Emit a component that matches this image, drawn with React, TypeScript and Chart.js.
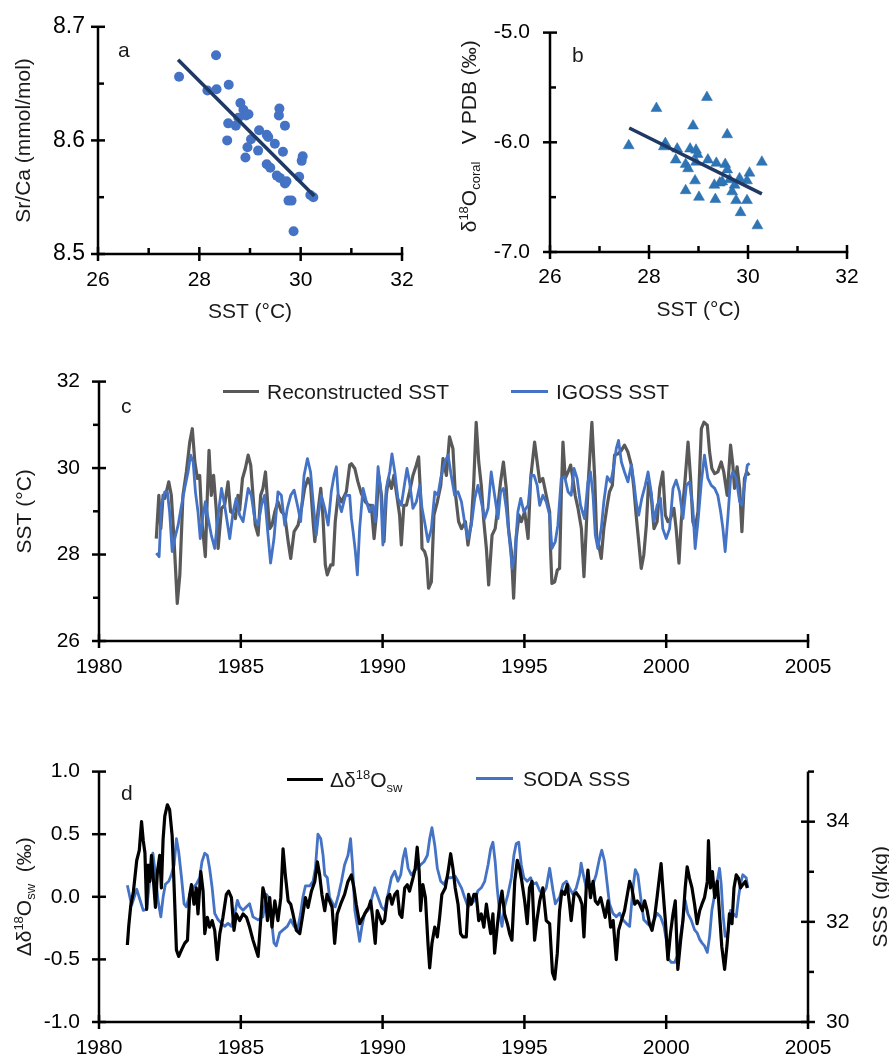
import React, { useEffect, useRef } from 'react';
import { Chart, registerables } from 'chart.js';
Chart.register(...registerables);

const FONT = '"Liberation Sans", Arial, Helvetica, sans-serif';
const TXT = '#1a1a1a';

// ---------- Panel a: Sr/Ca vs SST ----------
const aSST = [27.60, 28.33, 28.16, 28.34, 28.58, 28.55, 28.57, 28.72, 28.81, 28.87, 28.92, 28.97, 28.77, 28.91, 28.95, 29.02, 29.16, 29.18, 29.33, 29.36, 29.33, 29.40, 29.49, 29.58, 29.57, 29.69, 29.65, 29.53, 29.59, 29.69, 29.72, 29.76, 29.82, 29.86, 29.97, 30.02, 30.04, 30.19, 30.25];
const aSrCa = [8.656, 8.675, 8.644, 8.645, 8.649, 8.600, 8.615, 8.613, 8.633, 8.627, 8.622, 8.623, 8.620, 8.585, 8.594, 8.601, 8.591, 8.609, 8.605, 8.603, 8.579, 8.576, 8.597, 8.628, 8.622, 8.613, 8.590, 8.569, 8.567, 8.562, 8.564, 8.547, 8.547, 8.520, 8.568, 8.582, 8.586, 8.552, 8.550];
const aFitSST = [27.58, 30.27];
const aFitSrCa = [8.671, 8.551];

// ---------- Panel b: d18O coral vs SST ----------
const bSST = [27.59, 28.15, 29.17, 28.89, 29.58, 28.33, 28.30, 28.57, 28.83, 28.95, 28.98, 28.54, 28.74, 28.79, 28.95, 29.19, 29.36, 29.54, 29.58, 30.28, 30.03, 29.98, 29.83, 29.73, 29.63, 29.43, 29.48, 29.32, 28.93, 28.74, 29.01, 29.34, 29.68, 29.76, 29.98, 29.85, 30.19];
const bD18O = [-6.03, -5.69, -5.59, -5.85, -5.93, -6.01, -6.04, -6.06, -6.06, -6.07, -6.11, -6.16, -6.20, -6.24, -6.18, -6.16, -6.19, -6.20, -6.25, -6.18, -6.28, -6.35, -6.33, -6.39, -6.34, -6.37, -6.36, -6.39, -6.35, -6.44, -6.50, -6.52, -6.45, -6.53, -6.53, -6.64, -6.76];
const bFitSST = [27.6, 30.28];
const bFitD18O = [-5.87, -6.47];

// ---------- Ticks ----------
const sstTicks = [26, 27, 28, 29, 30, 31, 32];
const sstLabels = [26, 28, 30, 32];
const aYTicks = [8.5, 8.55, 8.6, 8.65, 8.7];
const aYLabels = [8.5, 8.6, 8.7];
const bYTicks = [-7, -6.5, -6, -5.5, -5];
const bYLabels = [-7, -6, -5];
const cYTicks = [26, 27, 28, 29, 30, 31, 32];
const cYLabels = [26, 28, 30, 32];
const yearTicks = [1980, 1985, 1990, 1995, 2000, 2005];
const dYTicks = [-1, -0.5, 0, 0.5, 1];
const dY1Ticks = [30, 31, 32, 33, 34, 35];
const dY1Labels = [30, 32, 34];

// ---------- Panel c: Reconstructed SST ----------
const recYears = [1982.02, 1982.11, 1982.18, 1982.26, 1982.32, 1982.46, 1982.55, 1982.65, 1982.76, 1982.85, 1982.96, 1983.08, 1983.2, 1983.29, 1983.38, 1983.47, 1983.55, 1983.63, 1983.75, 1983.82, 1983.88, 1983.96, 1984.04, 1984.14, 1984.2, 1984.32, 1984.43, 1984.55, 1984.64, 1984.73, 1984.81, 1984.9, 1984.96, 1985.06, 1985.16, 1985.26, 1985.35, 1985.43, 1985.51, 1985.61, 1985.7, 1985.78, 1985.87, 1985.96, 1986.02, 1986.1, 1986.2, 1986.31, 1986.43, 1986.55, 1986.67, 1986.76, 1986.88, 1987.02, 1987.14, 1987.25, 1987.37, 1987.46, 1987.55, 1987.61, 1987.72, 1987.82, 1987.9, 1987.98, 1988.05, 1988.17, 1988.25, 1988.33, 1988.43, 1988.55, 1988.72, 1988.84, 1988.9, 1989.02, 1989.13, 1989.25, 1989.39, 1989.51, 1989.6, 1989.7, 1989.78, 1989.86, 1989.96, 1990.05, 1990.13, 1990.21, 1990.31, 1990.4, 1990.5, 1990.6, 1990.66, 1990.75, 1990.84, 1990.95, 1991.07, 1991.19, 1991.27, 1991.34, 1991.39, 1991.48, 1991.55, 1991.62, 1991.72, 1991.81, 1991.93, 1992.05, 1992.13, 1992.25, 1992.36, 1992.48, 1992.56, 1992.68, 1992.78, 1992.92, 1993.01, 1993.13, 1993.21, 1993.3, 1993.39, 1993.48, 1993.57, 1993.66, 1993.74, 1993.86, 1993.97, 1994.07, 1994.16, 1994.26, 1994.36, 1994.44, 1994.54, 1994.62, 1994.71, 1994.81, 1994.89, 1995.01, 1995.13, 1995.22, 1995.36, 1995.45, 1995.54, 1995.65, 1995.77, 1995.89, 1995.92, 1995.97, 1996.07, 1996.16, 1996.24, 1996.3, 1996.36, 1996.44, 1996.54, 1996.63, 1996.71, 1996.79, 1996.89, 1997.01, 1997.1, 1997.18, 1997.26, 1997.38, 1997.48, 1997.55, 1997.62, 1997.71, 1997.8, 1997.92, 1998.0, 1998.1, 1998.18, 1998.3, 1998.42, 1998.53, 1998.65, 1998.77, 1998.86, 1998.94, 1999.03, 1999.12, 1999.21, 1999.3, 1999.38, 1999.47, 1999.57, 1999.68, 1999.77, 1999.88, 1999.97, 2000.06, 2000.15, 2000.27, 2000.35, 2000.45, 2000.53, 2000.65, 2000.77, 2000.86, 2000.94, 2001.02, 2001.12, 2001.24, 2001.33, 2001.45, 2001.53, 2001.61, 2001.71, 2001.82, 2001.94, 2002.03, 2002.15, 2002.27, 2002.35, 2002.41, 2002.5, 2002.59, 2002.67, 2002.76, 2002.84, 2002.93];
const recSST = [28.37, 29.37, 28.6, 29.37, 29.3, 29.68, 29.37, 28.3, 26.87, 27.53, 29.37, 29.91, 30.6, 30.91, 30.14, 29.76, 29.83, 28.76, 27.95, 29.37, 30.41, 29.37, 29.83, 28.99, 28.14, 29.07, 29.14, 29.68, 28.99, 28.95, 28.83, 29.37, 29.03, 29.76, 29.99, 30.3, 30.07, 29.37, 28.68, 28.45, 29.37, 29.53, 29.91, 29.07, 28.6, 28.68, 28.99, 29.22, 28.99, 28.91, 28.3, 27.91, 28.53, 28.68, 29.07, 29.53, 29.76, 29.6, 28.76, 28.3, 28.99, 29.53, 28.83, 27.76, 27.53, 27.76, 27.76, 28.76, 29.37, 29.22, 29.45, 30.07, 30.1, 29.99, 29.68, 29.41, 29.22, 29.14, 29.14, 28.37, 28.91, 29.83, 29.37, 28.3, 29.37, 29.76, 29.53, 29.83, 29.37, 28.91, 28.22, 29.14, 29.14, 29.45, 29.83, 30.07, 30.26, 29.37, 28.14, 28.07, 27.91, 27.22, 27.37, 28.91, 29.22, 29.6, 30.22, 29.83, 30.72, 30.45, 29.45, 28.76, 28.6, 28.76, 28.22, 28.76, 29.6, 31.06, 30.14, 29.6, 28.76, 28.14, 27.3, 28.45, 28.6, 29.14, 29.68, 30.14, 29.53, 28.6, 28.07, 26.99, 28.37, 28.91, 28.76, 28.99, 28.37, 29.76, 30.6, 30.14, 29.68, 29.76, 29.37, 28.99, 28.14, 27.33, 27.37, 27.64, 27.68, 29.37, 30.6, 29.76, 29.91, 30.07, 29.76, 29.37, 29.07, 28.6, 27.49, 28.6, 29.76, 31.06, 29.76, 28.37, 28.22, 27.91, 28.6, 29.14, 29.45, 29.6, 30.3, 30.33, 30.41, 30.53, 30.37, 30.07, 29.53, 28.91, 28.3, 27.68, 27.99, 28.68, 29.68, 29.37, 28.6, 28.76, 29.53, 29.91, 28.91, 28.76, 28.83, 29.07, 28.6, 27.8, 28.76, 29.6, 30.6, 29.76, 28.76, 28.6, 28.99, 30.91, 31.06, 30.99, 30.37, 29.99, 29.87, 29.91, 30.14, 29.91, 29.37, 30.53, 30.07, 29.53, 30.03, 29.53, 28.53, 29.76, 29.91, 29.83];

// ---------- Panel c: IGOSS SST ----------
const igossYears = [1982.02, 1982.12, 1982.2, 1982.32, 1982.41, 1982.49, 1982.58, 1982.67, 1982.79, 1982.91, 1983.02, 1983.14, 1983.23, 1983.32, 1983.4, 1983.49, 1983.57, 1983.67, 1983.75, 1983.85, 1983.96, 1984.08, 1984.2, 1984.32, 1984.43, 1984.61, 1984.73, 1984.84, 1984.96, 1985.08, 1985.26, 1985.37, 1985.49, 1985.61, 1985.73, 1985.84, 1985.96, 1986.05, 1986.17, 1986.31, 1986.43, 1986.55, 1986.64, 1986.76, 1986.88, 1987.02, 1987.11, 1987.23, 1987.35, 1987.46, 1987.55, 1987.66, 1987.75, 1987.84, 1987.96, 1988.08, 1988.19, 1988.29, 1988.37, 1988.45, 1988.55, 1988.69, 1988.84, 1988.9, 1988.96, 1989.04, 1989.11, 1989.19, 1989.31, 1989.43, 1989.54, 1989.66, 1989.74, 1989.84, 1989.93, 1990.01, 1990.13, 1990.25, 1990.33, 1990.43, 1990.54, 1990.66, 1990.75, 1990.86, 1990.95, 1991.07, 1991.19, 1991.31, 1991.39, 1991.48, 1991.6, 1991.72, 1991.84, 1991.95, 1992.05, 1992.19, 1992.31, 1992.42, 1992.54, 1992.66, 1992.78, 1992.89, 1993.01, 1993.13, 1993.25, 1993.36, 1993.48, 1993.6, 1993.72, 1993.83, 1993.95, 1994.07, 1994.16, 1994.26, 1994.36, 1994.48, 1994.57, 1994.66, 1994.77, 1994.87, 1994.98, 1995.13, 1995.24, 1995.34, 1995.45, 1995.54, 1995.65, 1995.77, 1995.89, 1995.97, 1996.09, 1996.18, 1996.3, 1996.42, 1996.54, 1996.65, 1996.75, 1996.86, 1996.98, 1997.12, 1997.24, 1997.33, 1997.42, 1997.5, 1997.59, 1997.71, 1997.8, 1997.92, 1998.04, 1998.12, 1998.24, 1998.32, 1998.42, 1998.53, 1998.65, 1998.77, 1998.86, 1998.94, 1999.03, 1999.14, 1999.26, 1999.36, 1999.47, 1999.57, 1999.68, 1999.8, 1999.88, 2000.0, 2000.12, 2000.24, 2000.35, 2000.47, 2000.59, 2000.71, 2000.82, 2000.94, 2001.02, 2001.12, 2001.24, 2001.35, 2001.47, 2001.59, 2001.71, 2001.82, 2001.92, 2002.0, 2002.08, 2002.18, 2002.27, 2002.35, 2002.47, 2002.59, 2002.67, 2002.76, 2002.86, 2002.94];
const igossSST = [28.03, 27.95, 29.14, 29.45, 29.45, 28.99, 28.07, 28.37, 28.68, 29.14, 29.53, 29.91, 30.3, 30.14, 29.45, 28.99, 28.37, 28.91, 29.22, 28.83, 28.45, 28.14, 28.91, 29.53, 29.14, 28.37, 28.99, 29.3, 28.91, 28.76, 29.53, 29.37, 28.83, 28.68, 29.14, 29.37, 28.45, 27.8, 28.37, 29.45, 29.37, 28.68, 29.07, 29.37, 29.49, 29.07, 28.76, 29.83, 30.22, 29.91, 29.22, 28.45, 28.99, 29.37, 29.07, 28.68, 29.45, 29.83, 30.03, 29.22, 28.99, 29.37, 29.37, 28.83, 28.53, 28.07, 27.53, 28.6, 29.53, 29.22, 28.99, 29.14, 28.76, 30.03, 29.53, 28.22, 29.53, 29.91, 30.33, 29.91, 29.3, 29.14, 29.53, 29.99, 29.68, 29.07, 29.22, 29.6, 29.07, 28.76, 28.3, 28.6, 29.45, 29.37, 29.76, 30.14, 30.3, 29.83, 29.37, 29.45, 29.22, 28.76, 28.37, 28.68, 29.3, 29.6, 29.22, 28.83, 29.07, 29.91, 29.37, 28.83, 29.45, 29.53, 29.07, 28.3, 27.68, 27.99, 28.99, 29.3, 28.99, 29.14, 29.83, 29.83, 29.6, 29.14, 29.37, 29.22, 28.91, 28.14, 28.3, 28.68, 29.76, 29.8, 29.45, 29.37, 29.99, 29.76, 29.14, 28.83, 29.68, 29.91, 29.37, 28.45, 28.14, 28.6, 29.22, 29.8, 29.68, 29.91, 30.45, 30.64, 30.14, 29.91, 29.68, 30.07, 29.68, 29.22, 28.91, 29.3, 29.6, 29.91, 29.45, 28.76, 29.14, 29.3, 28.6, 28.37, 28.6, 29.53, 29.72, 29.45, 28.83, 29.6, 29.68, 29.07, 28.14, 28.76, 29.68, 30.3, 29.76, 29.6, 29.53, 29.37, 28.99, 28.6, 28.07, 28.91, 29.76, 29.91, 29.76, 29.22, 29.14, 29.6, 30.07, 30.11];

// ---------- Panel d: seawater d18O anomaly ----------
const swYears = [1981.0, 1981.05, 1981.12, 1981.21, 1981.33, 1981.42, 1981.5, 1981.56, 1981.62, 1981.68, 1981.73, 1981.79, 1981.85, 1981.94, 1981.99, 1982.06, 1982.14, 1982.2, 1982.26, 1982.32, 1982.41, 1982.49, 1982.58, 1982.65, 1982.73, 1982.81, 1982.91, 1983.02, 1983.12, 1983.2, 1983.26, 1983.35, 1983.43, 1983.49, 1983.59, 1983.67, 1983.73, 1983.82, 1983.9, 1983.99, 1984.08, 1984.17, 1984.26, 1984.37, 1984.49, 1984.57, 1984.67, 1984.76, 1984.84, 1984.96, 1985.08, 1985.2, 1985.31, 1985.43, 1985.61, 1985.7, 1985.78, 1985.87, 1985.94, 1986.02, 1986.1, 1986.2, 1986.31, 1986.41, 1986.49, 1986.57, 1986.67, 1986.76, 1986.84, 1986.96, 1987.08, 1987.19, 1987.28, 1987.37, 1987.49, 1987.61, 1987.7, 1987.78, 1987.86, 1987.96, 1988.04, 1988.13, 1988.22, 1988.31, 1988.4, 1988.52, 1988.66, 1988.78, 1988.9, 1988.99, 1989.07, 1989.19, 1989.31, 1989.43, 1989.51, 1989.58, 1989.66, 1989.74, 1989.81, 1989.9, 1989.98, 1990.07, 1990.17, 1990.25, 1990.33, 1990.43, 1990.52, 1990.6, 1990.68, 1990.78, 1990.87, 1990.95, 1991.07, 1991.15, 1991.22, 1991.29, 1991.34, 1991.42, 1991.51, 1991.6, 1991.66, 1991.74, 1991.84, 1991.93, 1992.01, 1992.09, 1992.21, 1992.31, 1992.4, 1992.48, 1992.56, 1992.66, 1992.75, 1992.83, 1992.95, 1993.03, 1993.13, 1993.22, 1993.3, 1993.39, 1993.48, 1993.57, 1993.66, 1993.74, 1993.81, 1993.89, 1993.95, 1994.04, 1994.13, 1994.21, 1994.3, 1994.4, 1994.48, 1994.56, 1994.66, 1994.75, 1994.83, 1994.91, 1995.01, 1995.1, 1995.18, 1995.27, 1995.36, 1995.44, 1995.54, 1995.65, 1995.77, 1995.89, 1995.99, 1996.07, 1996.16, 1996.24, 1996.32, 1996.42, 1996.51, 1996.59, 1996.65, 1996.75, 1996.83, 1996.95, 1997.03, 1997.1, 1997.18, 1997.24, 1997.33, 1997.42, 1997.5, 1997.59, 1997.69, 1997.77, 1997.85, 1997.95, 1998.04, 1998.13, 1998.24, 1998.32, 1998.42, 1998.53, 1998.63, 1998.71, 1998.79, 1998.89, 1998.98, 1999.06, 1999.16, 1999.24, 1999.33, 1999.41, 1999.5, 1999.59, 1999.68, 1999.77, 1999.82, 1999.88, 1999.97, 2000.06, 2000.15, 2000.24, 2000.32, 2000.41, 2000.51, 2000.59, 2000.67, 2000.74, 2000.82, 2000.91, 2001.0, 2001.09, 2001.18, 2001.26, 2001.35, 2001.45, 2001.49, 2001.56, 2001.63, 2001.71, 2001.8, 2001.88, 2001.96, 2002.06, 2002.15, 2002.23, 2002.32, 2002.39, 2002.47, 2002.55, 2002.62, 2002.7, 2002.79, 2002.86];
const swD18O = [-0.385, -0.23, -0.07, 0.035, 0.29, 0.37, 0.6, 0.45, 0.35, -0.1, 0.253, 0.123, 0.331, 0.071, -0.085, 0.201, 0.331, 0.071, 0.461, 0.644, 0.735, 0.696, 0.487, 0.071, -0.424, -0.476, -0.424, -0.372, -0.346, 0.019, 0.097, -0.059, 0.071, -0.137, 0.201, 0.045, -0.294, -0.164, -0.242, -0.19, -0.268, -0.502, -0.294, -0.164, 0.019, 0.045, -0.007, -0.268, -0.137, -0.19, -0.137, -0.164, -0.242, -0.346, -0.476, -0.19, 0.071, -0.007, -0.19, -0.007, -0.242, -0.033, -0.19, -0.007, 0.383, 0.175, -0.033, -0.059, -0.137, -0.268, -0.294, -0.137, -0.007, -0.085, 0.045, 0.123, 0.279, 0.175, 0.019, -0.111, 0.019, -0.033, -0.085, -0.372, -0.137, -0.059, 0.019, 0.123, 0.175, 0.071, -0.059, -0.215, -0.164, -0.111, -0.085, -0.033, -0.19, -0.372, -0.111, -0.164, -0.215, -0.19, -0.007, 0.019, -0.059, 0.019, 0.045, -0.137, -0.164, 0.071, 0.097, 0.045, 0.149, 0.227, 0.396, 0.201, -0.111, 0.097, -0.007, -0.372, -0.567, -0.372, -0.242, -0.32, -0.164, 0.019, 0.071, 0.201, 0.344, 0.227, 0.071, -0.059, -0.294, -0.32, -0.32, 0.019, -0.059, 0.019, 0.019, -0.19, -0.137, -0.242, -0.059, -0.19, -0.294, -0.137, -0.45, -0.242, -0.059, 0.045, -0.137, -0.215, -0.294, -0.346, 0.123, 0.292, 0.227, 0.123, -0.033, -0.215, 0.071, 0.123, -0.346, -0.19, -0.033, 0.071, -0.19, -0.215, -0.606, -0.658, -0.45, -0.111, 0.045, 0.019, 0.097, -0.059, -0.19, 0.019, 0.032, -0.007, -0.059, -0.32, 0.071, 0.214, -0.007, 0.123, -0.033, -0.059, -0.007, -0.085, -0.164, -0.033, -0.242, -0.19, -0.502, -0.268, -0.19, -0.111, 0.019, 0.123, 0.071, -0.059, -0.033, -0.059, -0.111, -0.033, -0.111, -0.215, -0.268, -0.164, 0.0, 0.175, 0.266, 0.071, -0.19, -0.502, -0.294, -0.137, -0.033, -0.58, -0.346, -0.19, 0.071, 0.24, 0.149, 0.071, -0.059, -0.215, -0.111, -0.059, -0.007, 0.123, 0.448, 0.071, 0.201, -0.007, 0.123, -0.137, -0.398, -0.58, -0.372, -0.137, -0.215, 0.071, 0.175, 0.149, 0.071, 0.097, 0.123, 0.071];

// ---------- Panel d: SODA SSS ----------
const sodaYears = [1981.0, 1981.15, 1981.33, 1981.56, 1981.68, 1981.8, 1981.9, 1981.99, 1982.08, 1982.18, 1982.26, 1982.34, 1982.46, 1982.55, 1982.65, 1982.73, 1982.81, 1982.91, 1983.0, 1983.08, 1983.2, 1983.32, 1983.43, 1983.55, 1983.63, 1983.73, 1983.82, 1983.9, 1983.99, 1984.08, 1984.2, 1984.32, 1984.43, 1984.55, 1984.67, 1984.79, 1984.88, 1984.96, 1985.08, 1985.2, 1985.31, 1985.43, 1985.61, 1985.78, 1985.9, 1985.98, 1986.08, 1986.17, 1986.25, 1986.37, 1986.49, 1986.64, 1986.76, 1986.88, 1987.0, 1987.11, 1987.19, 1987.28, 1987.43, 1987.55, 1987.63, 1987.72, 1987.82, 1987.9, 1987.96, 1988.05, 1988.13, 1988.25, 1988.33, 1988.45, 1988.55, 1988.66, 1988.78, 1988.87, 1988.94, 1989.02, 1989.11, 1989.19, 1989.27, 1989.37, 1989.49, 1989.6, 1989.72, 1989.84, 1989.96, 1990.07, 1990.19, 1990.31, 1990.43, 1990.54, 1990.64, 1990.72, 1990.8, 1990.9, 1991.01, 1991.11, 1991.22, 1991.34, 1991.46, 1991.58, 1991.66, 1991.74, 1991.84, 1991.93, 1992.05, 1992.16, 1992.28, 1992.42, 1992.56, 1992.66, 1992.78, 1992.89, 1993.01, 1993.13, 1993.25, 1993.36, 1993.48, 1993.6, 1993.72, 1993.81, 1993.89, 1993.97, 1994.04, 1994.13, 1994.21, 1994.3, 1994.42, 1994.54, 1994.63, 1994.71, 1994.8, 1994.89, 1994.98, 1995.1, 1995.22, 1995.3, 1995.42, 1995.54, 1995.65, 1995.77, 1995.89, 1996.01, 1996.09, 1996.24, 1996.36, 1996.48, 1996.59, 1996.71, 1996.83, 1996.95, 1997.0, 1997.1, 1997.18, 1997.3, 1997.42, 1997.53, 1997.65, 1997.73, 1997.83, 1997.92, 1998.0, 1998.12, 1998.24, 1998.36, 1998.47, 1998.59, 1998.71, 1998.83, 1998.91, 1999.0, 1999.1, 1999.21, 1999.33, 1999.45, 1999.57, 1999.68, 1999.8, 1999.92, 2000.0, 2000.08, 2000.18, 2000.3, 2000.39, 2000.47, 2000.59, 2000.67, 2000.76, 2000.88, 2001.0, 2001.09, 2001.18, 2001.26, 2001.35, 2001.45, 2001.53, 2001.61, 2001.71, 2001.8, 2001.88, 2001.94, 2002.0, 2002.08, 2002.18, 2002.27, 2002.35, 2002.47, 2002.55, 2002.62, 2002.7, 2002.82, 2002.88];
const sodaSSS = [32.73, 32.33, 32.65, 32.23, 32.25, 32.9, 33.37, 32.94, 32.43, 32.1, 32.49, 32.75, 32.81, 32.94, 33.14, 33.66, 33.4, 32.88, 32.36, 32.3, 32.55, 32.68, 32.75, 32.88, 33.2, 33.37, 33.33, 33.07, 32.68, 32.17, 32.04, 31.97, 31.91, 31.97, 31.91, 32.17, 32.43, 32.3, 32.23, 32.3, 32.36, 32.1, 32.04, 32.1, 32.55, 32.49, 32.04, 31.58, 31.52, 31.78, 31.84, 31.91, 32.04, 31.91, 31.84, 32.17, 32.49, 32.72, 32.72, 32.81, 33.07, 33.75, 33.66, 33.33, 32.94, 32.88, 32.49, 32.36, 32.3, 32.55, 32.81, 33.14, 33.33, 33.66, 33.14, 32.23, 31.91, 31.61, 31.91, 32.17, 32.23, 32.43, 32.68, 32.49, 32.3, 32.23, 32.55, 32.88, 33.01, 32.81, 32.94, 33.27, 33.46, 33.07, 32.94, 33.01, 33.07, 33.14, 33.2, 33.33, 33.66, 33.88, 33.53, 33.07, 32.81, 32.75, 32.88, 32.88, 32.91, 32.81, 32.68, 32.49, 32.3, 32.36, 32.43, 32.62, 32.68, 32.81, 33.14, 33.46, 33.59, 33.2, 32.68, 32.17, 31.91, 32.3, 32.55, 32.88, 33.33, 33.56, 33.59, 33.14, 32.88, 32.81, 32.88, 32.75, 32.78, 32.62, 32.55, 32.68, 33.07, 32.62, 32.36, 32.49, 32.75, 32.81, 32.68, 32.55, 32.68, 32.94, 33.17, 32.88, 32.68, 32.75, 32.75, 32.94, 33.27, 33.43, 33.2, 32.75, 32.36, 32.17, 32.1, 32.17, 32.04, 31.97, 31.91, 32.68, 33.04, 32.94, 32.49, 32.04, 31.97, 31.91, 32.04, 32.17, 32.1, 31.91, 31.65, 31.26, 31.19, 31.19, 31.32, 31.58, 32.04, 32.43, 32.17, 32.04, 31.84, 31.78, 31.65, 31.58, 31.52, 31.39, 31.71, 32.23, 32.55, 32.81, 33.07, 32.75, 32.17, 31.71, 31.78, 32.23, 32.17, 32.1, 32.49, 32.75, 32.94, 32.88, 32.68];

// ---------- helpers ----------
const pts = (xs: number[], ys: number[]) => xs.map((x, i) => ({ x, y: ys[i] }));
const has = (arr: number[], v: number) => arr.some((a) => Math.abs(a - v) < 1e-6);

type Part = { t: string; k?: 'sup' | 'sub' };
type TextItem = {
  parts: Part[];
  x: number;
  y: number;
  align?: 'left' | 'center';
  rotate?: boolean;
  line?: { color: string; width: number; len: number; gap: number };
};

function drawRich(ctx: CanvasRenderingContext2D, item: TextItem) {
  const size = 21;
  const small = 13;
  ctx.save();
  ctx.translate(item.x, item.y);
  if (item.rotate) ctx.rotate(-Math.PI / 2);
  let cx = 0;
  if (item.line) {
    ctx.strokeStyle = item.line.color;
    ctx.lineWidth = item.line.width;
    ctx.beginPath();
    ctx.moveTo(0, 0);
    ctx.lineTo(item.line.len, 0);
    ctx.stroke();
    cx = item.line.len + item.line.gap;
  }
  ctx.fillStyle = TXT;
  ctx.textBaseline = 'alphabetic';
  ctx.textAlign = 'left';
  const widths = item.parts.map((p) => {
    ctx.font = `${p.k ? small : size}px ${FONT}`;
    return ctx.measureText(p.t).width;
  });
  const total = widths.reduce((a, b) => a + b, 0);
  if (item.align === 'center') cx = -total / 2;
  const base = size * 0.36;
  item.parts.forEach((p, i) => {
    ctx.font = `${p.k ? small : size}px ${FONT}`;
    const dy = p.k === 'sup' ? -size * 0.38 : p.k === 'sub' ? size * 0.22 : 0;
    ctx.fillText(p.t, cx, base + dy);
    cx += widths[i];
  });
  ctx.restore();
}

type AxisSpec = { id: string; side: 'left' | 'right' | 'bottom'; labels: number[]; minor: 'in' | 'out' };

function decorPlugin(axes: AxisSpec[], texts: (ca: any) => TextItem[]) {
  return {
    id: 'decor',
    afterDatasetsDraw(chart: any) {
      const ctx: CanvasRenderingContext2D = chart.ctx;
      const ca = chart.chartArea;
      ctx.save();
      ctx.strokeStyle = '#000';
      ctx.lineWidth = 2.5;
      ctx.lineCap = 'butt';
      axes.forEach((s) => {
        const sc = chart.scales[s.id];
        ctx.beginPath();
        if (s.side === 'left') { ctx.moveTo(ca.left, ca.top); ctx.lineTo(ca.left, ca.bottom + 1.25); }
        else if (s.side === 'right') { ctx.moveTo(ca.right, ca.top); ctx.lineTo(ca.right, ca.bottom + 1.25); }
        else { ctx.moveTo(ca.left - 1.25, ca.bottom); ctx.lineTo(ca.right + 1.25, ca.bottom); }
        ctx.stroke();
        sc.ticks.forEach((t: any) => {
          const v = t.value;
          const p = sc.getPixelForValue(v);
          const major = has(s.labels, v);
          let a: number, b: number;
          if (major) { a = -7; b = 7; } else if (s.minor === 'in') { a = 0; b = 6; } else { a = -6; b = 0; }
          ctx.beginPath();
          if (s.side === 'left') { ctx.moveTo(ca.left + a, p); ctx.lineTo(ca.left + b, p); }
          else if (s.side === 'right') { ctx.moveTo(ca.right - a, p); ctx.lineTo(ca.right - b, p); }
          else { ctx.moveTo(p, ca.bottom - a); ctx.lineTo(p, ca.bottom - b); }
          ctx.stroke();
        });
      });
      ctx.restore();
      texts(ca).forEach((it) => drawRich(ctx, it));
    },
  };
}

function linScale(o: {
  min: number; max: number; ticks: number[]; labels: number[]; fmt: (v: number) => string;
  padding: number; position: string; w?: number; h?: number; size?: number;
}) {
  return {
    type: 'linear',
    position: o.position,
    min: o.min,
    max: o.max,
    grid: { display: false, drawTicks: false },
    border: { display: false },
    afterBuildTicks: (s: any) => { s.ticks = o.ticks.map((v) => ({ value: v })); },
    afterFit: (s: any) => { if (o.w !== undefined) s.width = o.w; if (o.h !== undefined) s.height = o.h; },
    ticks: {
      autoSkip: false,
      maxRotation: 0,
      padding: o.padding,
      color: '#000',
      font: { family: FONT, size: o.size ?? 21 },
      callback: (v: any) => (has(o.labels, Number(v)) ? o.fmt(Number(v)) : ''),
    },
  };
}

const baseOpts = (padding: any) => ({
  responsive: false,
  maintainAspectRatio: false,
  animation: false,
  events: [],
  layout: { padding },
  plugins: { legend: { display: false }, tooltip: { enabled: false } },
});

const fInt = (v: number) => String(Math.round(v));
const f1 = (v: number) => v.toFixed(1);

function configA() {
  return {
    type: 'scatter',
    data: {
      datasets: [
        { data: pts(aFitSST, aFitSrCa), showLine: true, borderColor: '#1F3864', borderWidth: 3.5, pointRadius: 0 },
        { data: pts(aSST, aSrCa), backgroundColor: '#4472C4', borderWidth: 0, pointRadius: 5, pointStyle: 'circle' },
      ],
    },
    options: {
      ...baseOpts({ left: 8, top: 23, right: 38, bottom: 36 }),
      scales: {
        x: linScale({ min: 26, max: 32, ticks: sstTicks, labels: sstLabels, fmt: fInt, padding: 14, position: 'bottom', h: 40 }),
        y: linScale({ min: 8.5, max: 8.7, ticks: aYTicks, labels: aYLabels, fmt: f1, padding: 13, position: 'left', w: 90, size: 23 }),
      },
    },
    plugins: [decorPlugin(
      [{ id: 'x', side: 'bottom', labels: sstLabels, minor: 'in' }, { id: 'y', side: 'left', labels: aYLabels, minor: 'in' }],
      (ca) => [
        { parts: [{ t: 'SST (°C)' }], x: (ca.left + ca.right) / 2, y: ca.bottom + 56, align: 'center' },
        { parts: [{ t: 'Sr/Ca (mmol/mol)' }], x: ca.left - 76, y: (ca.top + ca.bottom) / 2, align: 'center', rotate: true },
        { parts: [{ t: 'a' }], x: ca.left + 20, y: ca.top + 23 },
      ],
    )],
  };
}

function configB() {
  return {
    type: 'scatter',
    data: {
      datasets: [
        { data: pts(bFitSST, bFitD18O), showLine: true, borderColor: '#1F3864', borderWidth: 3.5, pointRadius: 0 },
        { data: pts(bSST, bD18O), backgroundColor: '#2E75B6', borderColor: '#2A6AA8', borderWidth: 0.5, pointRadius: 6.3, pointStyle: 'triangle' },
      ],
    },
    options: {
      ...baseOpts({ left: 10, top: 23, right: 42, bottom: 38 }),
      scales: {
        x: linScale({ min: 26, max: 32, ticks: sstTicks, labels: sstLabels, fmt: fInt, padding: 13, position: 'bottom', h: 40 }),
        y: linScale({ min: -7, max: -5, ticks: bYTicks, labels: bYLabels, fmt: f1, padding: 20, position: 'left', w: 100 }),
      },
    },
    plugins: [decorPlugin(
      [{ id: 'x', side: 'bottom', labels: sstLabels, minor: 'in' }, { id: 'y', side: 'left', labels: bYLabels, minor: 'in' }],
      (ca) => [
        { parts: [{ t: 'SST (°C)' }], x: (ca.left + ca.right) / 2, y: ca.bottom + 56, align: 'center' },
        {
          parts: [{ t: 'δ' }, { t: '18', k: 'sup' }, { t: 'O' }, { t: 'coral', k: 'sub' }, { t: '   V PDB (‰)' }],
          x: ca.left - 82, y: (ca.top + ca.bottom) / 2 - 6, align: 'center', rotate: true,
        },
        { parts: [{ t: 'b' }], x: ca.left + 22, y: ca.top + 22 },
      ],
    )],
  };
}

function configC() {
  return {
    type: 'scatter',
    data: {
      datasets: [
        { data: pts(igossYears, igossSST), showLine: true, borderColor: '#4472C4', borderWidth: 2.8, pointRadius: 0, borderJoinStyle: 'round' },
        { data: pts(recYears, recSST), showLine: true, borderColor: '#595959', borderWidth: 3.2, pointRadius: 0, borderJoinStyle: 'round' },
      ],
    },
    options: {
      ...baseOpts({ left: 9, top: 31, right: 81, bottom: 9 }),
      scales: {
        x: linScale({ min: 1980, max: 2005, ticks: yearTicks, labels: yearTicks, fmt: fInt, padding: 14, position: 'bottom', h: 40 }),
        y: linScale({ min: 26, max: 32, ticks: cYTicks, labels: cYLabels, fmt: fInt, padding: 19, position: 'left', w: 90 }),
      },
    },
    plugins: [decorPlugin(
      [{ id: 'x', side: 'bottom', labels: yearTicks, minor: 'out' }, { id: 'y', side: 'left', labels: cYLabels, minor: 'out' }],
      (ca) => [
        { parts: [{ t: 'SST (°C)' }], x: ca.left - 76, y: (ca.top + ca.bottom) / 2, align: 'center', rotate: true },
        { parts: [{ t: 'c' }], x: ca.left + 22, y: ca.top + 24 },
        { parts: [{ t: 'Reconstructed SST' }], x: ca.left + 124, y: ca.top + 10, line: { color: '#595959', width: 3, len: 36, gap: 8 } },
        { parts: [{ t: 'IGOSS SST' }], x: ca.left + 412, y: ca.top + 10, line: { color: '#4472C4', width: 3, len: 37, gap: 8 } },
      ],
    )],
  };
}

function configD() {
  return {
    type: 'scatter',
    data: {
      datasets: [
        { data: pts(swYears, swD18O), yAxisID: 'y', showLine: true, borderColor: '#000000', borderWidth: 3.2, pointRadius: 0, borderJoinStyle: 'round' },
        { data: pts(sodaYears, sodaSSS), yAxisID: 'y1', showLine: true, borderColor: '#4472C4', borderWidth: 2.8, pointRadius: 0, borderJoinStyle: 'round' },
      ],
    },
    options: {
      ...baseOpts({ left: 9, top: 26, right: 1, bottom: 0 }),
      scales: {
        x: linScale({ min: 1980, max: 2005, ticks: yearTicks, labels: yearTicks, fmt: fInt, padding: 14, position: 'bottom', h: 37 }),
        y: linScale({ min: -1, max: 1, ticks: dYTicks, labels: dYTicks, fmt: f1, padding: 19, position: 'left', w: 90 }),
        y1: linScale({ min: 30, max: 35, ticks: dY1Ticks, labels: dY1Labels, fmt: fInt, padding: 18, position: 'right', w: 80 }),
      },
    },
    plugins: [decorPlugin(
      [
        { id: 'x', side: 'bottom', labels: yearTicks, minor: 'out' },
        { id: 'y', side: 'left', labels: dYTicks, minor: 'out' },
        { id: 'y1', side: 'right', labels: dY1Labels, minor: 'out' },
      ],
      (ca) => [
        {
          parts: [{ t: 'Δδ' }, { t: '18', k: 'sup' }, { t: 'O' }, { t: 'sw', k: 'sub' }, { t: '  (‰)' }],
          x: ca.left - 76, y: (ca.top + ca.bottom) / 2, align: 'center', rotate: true,
        },
        { parts: [{ t: 'SSS (g/kg)' }], x: ca.right + 71, y: (ca.top + ca.bottom) / 2, align: 'center', rotate: true },
        { parts: [{ t: 'd' }], x: ca.left + 22, y: ca.top + 21 },
        {
          parts: [{ t: 'Δδ' }, { t: '18', k: 'sup' }, { t: 'O' }, { t: 'sw', k: 'sub' }],
          x: ca.left + 188, y: ca.top + 8, line: { color: '#000000', width: 3, len: 36, gap: 7 },
        },
        { parts: [{ t: 'SODA SSS' }], x: ca.left + 377, y: ca.top + 7, line: { color: '#4472C4', width: 3, len: 37, gap: 10 } },
      ],
    )],
  };
}

function Panel(props: { left: number; top: number; width: number; height: number; make: () => any }) {
  const ref = useRef<HTMLCanvasElement>(null);
  useEffect(() => {
    const chart = new Chart(ref.current as HTMLCanvasElement, props.make());
    return () => chart.destroy();
  }, []);
  return (
    <canvas
      ref={ref}
      width={props.width}
      height={props.height}
      style={{ position: 'absolute', left: props.left, top: props.top, width: props.width, height: props.height }}
    />
  );
}

export default function App() {
  return (
    <div style={{ position: 'absolute', left: 0, top: 0, width: 889, height: 1059, background: '#fff', overflow: 'hidden' }}>
      <Panel left={0} top={0} width={440} height={330} make={configA} />
      <Panel left={440} top={0} width={449} height={330} make={configB} />
      <Panel left={0} top={350} width={889} height={340} make={configC} />
      <Panel left={0} top={740} width={889} height={319} make={configD} />
    </div>
  );
}
